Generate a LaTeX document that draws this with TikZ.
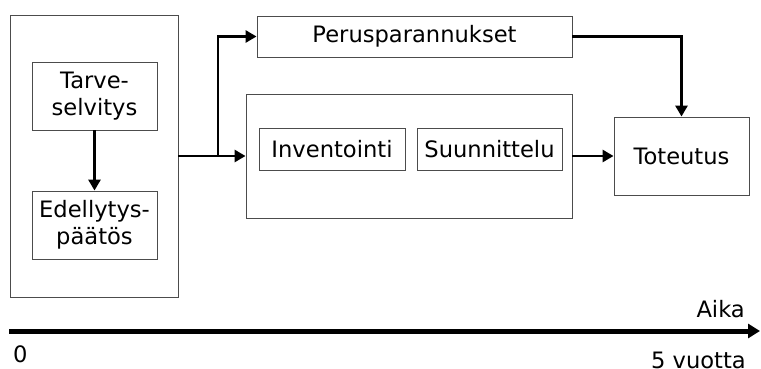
\documentclass[tikz,border=0pt]{standalone}
\usepackage{fontspec}
\setmainfont{DejaVu Sans}
\usetikzlibrary{arrows.meta}
\begin{document}
\begin{tikzpicture}[x=1pt,y=-1pt,
  box/.style={draw=black!70,line width=0.9pt,rectangle,inner sep=0pt,align=center,
    font=\fontsize{22.6}{27}\selectfont},
  conn/.style={line width=2.8pt,-{Triangle[length=11pt,width=12pt]}},
  lbl/.style={font=\fontsize{22.6}{27}\selectfont,inner sep=0pt}]
\useasboundingbox (0,0) rectangle (761,369);
\node[box,minimum width=168pt,minimum height=282pt] (outer) at (94,156) {};
\node[box,minimum width=125pt,minimum height=68pt] (tarve) at (94.5,96) {Tarve-\\selvitys};
\node[box,minimum width=125pt,minimum height=68pt] (edel) at (94.5,225) {Edellytys-\\päätös};
\node[box,minimum width=315pt,minimum height=41pt] (perus) at (414.5,36.5) {Perusparannukset};
\node[box,minimum width=326pt,minimum height=124pt] (mid) at (409,156) {};
\node[box,minimum width=146pt,minimum height=42pt] (inv) at (332,149) {Inventointi};
\node[box,minimum width=145pt,minimum height=42pt] (suun) at (489.5,149) {Suunnittelu};
\node[box,minimum width=135pt,minimum height=78pt] (tot) at (681.5,156) {Toteutus};
\coordinate (br) at (218,156);
\draw[conn] (tarve.south) -- (edel.north);
\draw[conn] (outer.east) -- (mid.west);
\draw[conn] (br) |- (perus.west);
\draw[conn] (perus.east) -| (tot.north);
\draw[conn] (mid.east) -- (tot.west);
\coordinate (a0) at (9,331);
\coordinate (a1) at (760,331);
\draw[line width=5pt,-{Triangle[length=12pt,width=14pt]}] (a0) -- (a1);
\node[lbl,anchor=base east] (aika) at (745,317) {Aika};
\node[lbl,anchor=base west] (zero) at (13,362) {0};
\node[lbl,anchor=base east] (five) at (746,368) {5 vuotta};
\end{tikzpicture}
\end{document}
